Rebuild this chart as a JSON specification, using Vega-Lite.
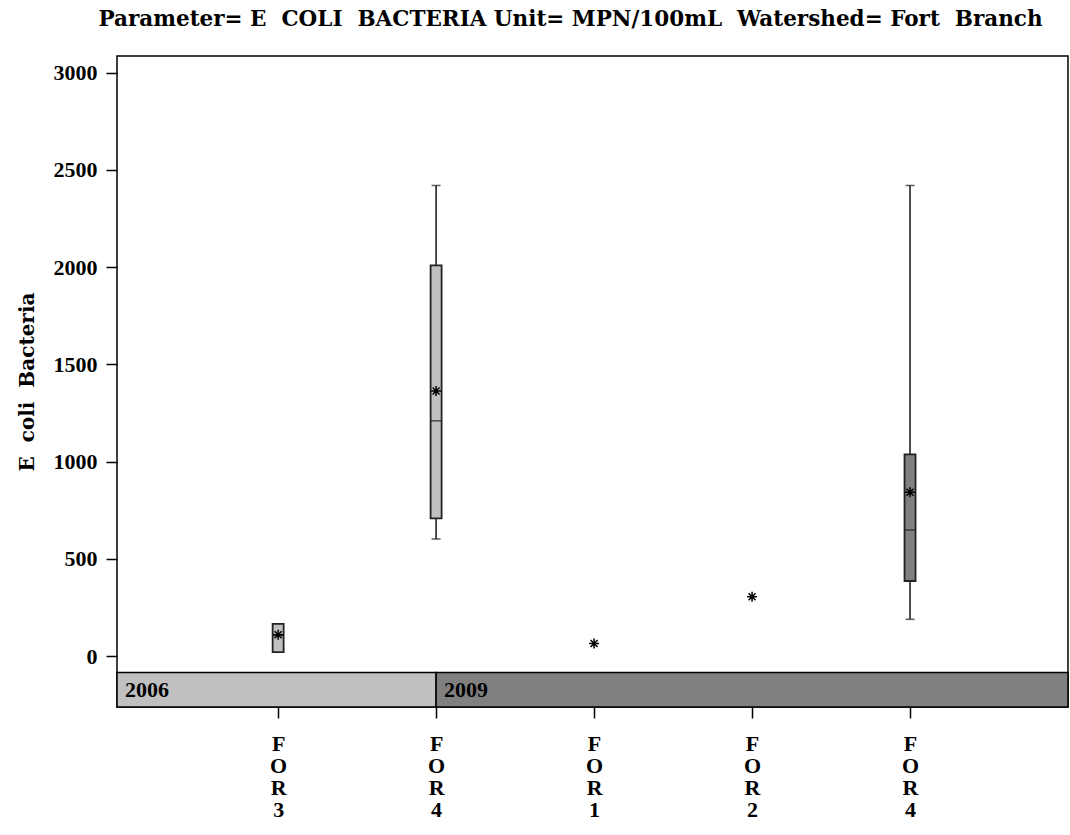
{
  "$schema": "https://vega.github.io/schema/vega-lite/v6.json",
  "autosize": {"type": "none"},
  "padding": {"left": 117, "top": 56, "right": 2, "bottom": 128},
  "width": 951,
  "height": 651,
  "background": "white",
  "title": {
    "text": "Parameter=\u00a0E\u00a0\u00a0COLI\u00a0\u00a0BACTERIA\u00a0Unit=\u00a0MPN/100mL\u00a0\u00a0Watershed=\u00a0Fort\u00a0\u00a0Branch",
    "font": "DejaVu Serif",
    "fontSize": 21.5,
    "fontWeight": "bold",
    "color": "black",
    "anchor": "middle",
    "dx": -22,
    "offset": 26
  },
  "config": {
    "view": {"stroke": "black", "strokeWidth": 1.5},
    "font": "Liberation Serif"
  },
  "datasets": {
    "years": [
      {"year": "2006", "from": -0.02, "to": 2},
      {"year": "2009", "from": 2, "to": 6.0}
    ],
    "sites": [
      {"seq": 1, "site": "FOR3", "year": "2006", "min": 20, "q1": 20, "median": 105, "q3": 165, "max": 165, "mean": 110},
      {"seq": 2, "site": "FOR4", "year": "2006", "min": 602, "q1": 708, "median": 1210, "q3": 2009, "max": 2420, "mean": 1363},
      {"seq": 3, "site": "FOR1", "year": "2009", "min": null, "q1": null, "median": null, "q3": null, "max": null, "mean": 65},
      {"seq": 4, "site": "FOR2", "year": "2009", "min": null, "q1": null, "median": null, "q3": null, "max": null, "mean": 305},
      {"seq": 5, "site": "FOR4", "year": "2009", "min": 189, "q1": 386, "median": 648, "q3": 1037, "max": 2420, "mean": 842}
    ]
  },
  "encoding": {
    "x": {
      "type": "quantitative",
      "scale": {"domain": [-0.02, 6.0], "nice": false, "zero": false, "padding": 0},
      "axis": {
        "orient": "bottom",
        "title": null,
        "values": [1, 2, 3, 4, 5],
        "labelExpr": "split(['','FOR3','FOR4','FOR1','FOR2','FOR4'][datum.value], '')",
        "labelFont": "Liberation Serif",
        "labelFontSize": 22,
        "labelFontWeight": "bold",
        "labelColor": "black",
        "labelLineHeight": 22.3,
        "labelBaseline": "top",
        "labelPadding": 15,
        "tickSize": 11,
        "tickColor": "black",
        "tickWidth": 1.5,
        "domain": false,
        "grid": false
      }
    },
    "y": {
      "type": "quantitative",
      "scale": {"domain": [-262, 3086], "nice": false, "zero": false, "padding": 0},
      "axis": {
        "title": "E\u00a0\u00a0coli\u00a0\u00a0Bacteria",
        "titleFont": "DejaVu Serif",
        "titleFontSize": 20,
        "titleFontWeight": "bold",
        "titleColor": "black",
        "titlePadding": 16,
        "values": [0, 500, 1000, 1500, 2000, 2500, 3000],
        "format": "d",
        "labelFont": "Liberation Serif",
        "labelFontSize": 22,
        "labelFontWeight": "bold",
        "labelColor": "black",
        "labelPadding": 9,
        "tickSize": 11,
        "tickColor": "black",
        "tickWidth": 1.5,
        "domain": false,
        "grid": false
      }
    }
  },
  "layer": [
    {
      "data": {"name": "years"},
      "mark": {"type": "rect", "stroke": "black", "strokeWidth": 1.5},
      "encoding": {
        "x": {"field": "from"},
        "x2": {"field": "to"},
        "y": {"datum": -262},
        "y2": {"datum": -84},
        "fill": {"field": "year", "type": "nominal", "scale": {"domain": ["2006", "2009"], "range": ["#c0c0c0", "#808080"]}, "legend": null}
      }
    },
    {
      "data": {"name": "years"},
      "mark": {"type": "text", "align": "left", "baseline": "middle", "dx": 8, "font": "Liberation Serif", "fontSize": 22, "fontWeight": "bold", "color": "black"},
      "encoding": {
        "x": {"field": "from"},
        "y": {"datum": -173},
        "text": {"field": "year"}
      }
    },
    {
      "mark": {"type": "rule", "strokeDash": [8, 6], "color": "black", "strokeWidth": 1.5},
      "encoding": {"y": {"datum": 368}}
    },
    {
      "data": {"name": "sites"},
      "transform": [{"filter": "isValid(datum.q1)"}],
      "layer": [
        {
          "mark": {"type": "rule", "color": "#222222", "strokeWidth": 1.6},
          "encoding": {"x": {"field": "seq"}, "y": {"field": "min"}, "y2": {"field": "max"}}
        },
        {
          "mark": {"type": "tick", "orient": "horizontal", "color": "#222222", "size": 9, "thickness": 1.6},
          "encoding": {"x": {"field": "seq"}, "y": {"field": "max"}}
        },
        {
          "mark": {"type": "tick", "orient": "horizontal", "color": "#222222", "size": 9, "thickness": 1.6},
          "encoding": {"x": {"field": "seq"}, "y": {"field": "min"}}
        },
        {
          "mark": {"type": "bar", "size": 11, "stroke": "#222222", "strokeWidth": 1.8},
          "encoding": {
            "x": {"field": "seq"},
            "y": {"field": "q1"},
            "y2": {"field": "q3"},
            "fill": {"field": "year", "type": "nominal", "legend": null}
          }
        },
        {
          "mark": {"type": "tick", "orient": "horizontal", "color": "#222222", "size": 11, "thickness": 1.6},
          "encoding": {"x": {"field": "seq"}, "y": {"field": "median"}}
        }
      ]
    },
    {
      "data": {"name": "sites"},
      "mark": {
        "type": "point",
        "shape": "M-1,0L1,0M0,-1L0,1M-0.7,-0.7L0.7,0.7M-0.7,0.7L0.7,-0.7",
        "filled": false,
        "stroke": "black",
        "strokeWidth": 1.5,
        "size": 100,
        "opacity": 1
      },
      "encoding": {"x": {"field": "seq"}, "y": {"field": "mean"}}
    }
  ]
}
